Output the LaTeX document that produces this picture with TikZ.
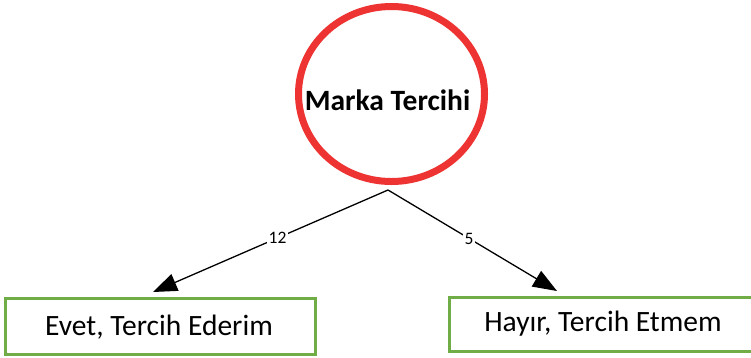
\documentclass[tikz,border=0pt]{standalone}
\usepackage{fontspec}
\setmainfont{Carlito}
\usetikzlibrary{shapes.geometric,arrows.meta}
\definecolor{ringred}{HTML}{EE3333}
\definecolor{boxgreen}{HTML}{70AD47}
\begin{document}
\begin{tikzpicture}[x=1pt,y=-1pt,
  ring/.style={draw=ringred,line width=7pt,ellipse,minimum width=186pt,minimum height=175pt,inner sep=0pt},
  answer/.style={draw=boxgreen,line width=3pt,rectangle,inner sep=0pt},
  bigtext/.style={font=\fontsize{29.5}{34}\selectfont,inner sep=0pt},
  link/.style={line width=1.3pt,-{Triangle[length=24pt,width=18pt]}},
  count/.style={fill=white,inner sep=1.5pt,font=\fontsize{17.5}{20}\selectfont}]
\useasboundingbox (0,0) rectangle (751,357);
\begin{scope}
\clip (0,0) rectangle (751,357);
% central ellipse and its title
\node[ring] (brand) at (391.5,94) {};
\node[bigtext,font=\fontsize{29.5}{34}\selectfont\bfseries] (brandtext) at (387.5,100) {Marka Tercihi};
% answer boxes
\node[answer,minimum width=310pt,minimum height=56pt] (yes) at (160,326.5) {};
\node[bigtext] (yestext) at (159,327) {Evet, Tercih Ederim};
\node[answer,minimum width=330pt,minimum height=54pt,anchor=west] (no) at (448,324.5) {};
\node[bigtext] (notext) at (603,324) {Hayır, Tercih Etmem};
% connectors with counts
\coordinate (apex) at (388,190);
\coordinate (tipyes) at (153,292);
\coordinate (tipno) at (557,291);
\draw[link] (apex) -- node[count,pos=0.47] {12} (tipyes);
\draw[link] (apex) -- node[count,pos=0.48] {5} (tipno);
\end{scope}
\end{tikzpicture}
\end{document}
